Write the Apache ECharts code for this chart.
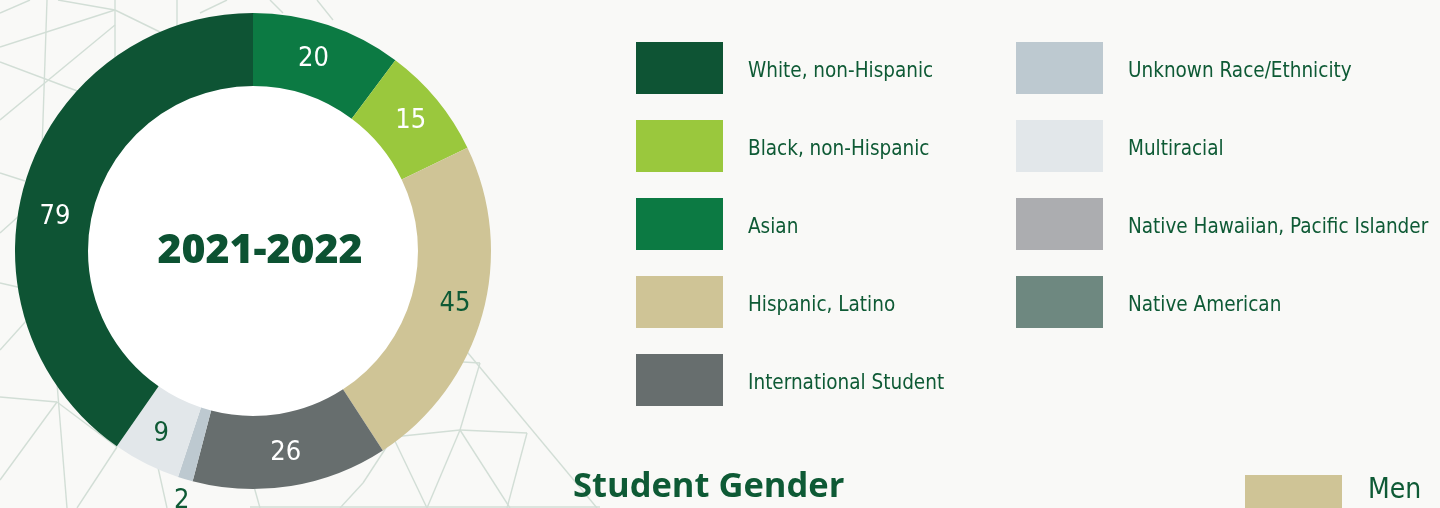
<!DOCTYPE html>
<html>
<head>
<meta charset="utf-8">
<script src="https://cdn.jsdelivr.net/npm/echarts@6/dist/echarts.min.js"></script>
<style>
  html, body { margin: 0; padding: 0; background: #f9f9f7; }
  #chart { width: 1440px; height: 508px; }
</style>
</head>
<body>
<div id="chart"></div>
<script>
// ring order, clockwise from 12 o'clock
var categories = ['Asian', 'Black, non-Hispanic', 'Hispanic, Latino', 'International Student',
  'Unknown Race/Ethnicity', 'Multiracial', 'White, non-Hispanic',
  'Native Hawaiian, Pacific Islander', 'Native American'];
var values = [20, 15, 45, 26, 2, 9, 79, 0, 0];
var colors = ['#0c7a43', '#9ac83d', '#cfc496', '#676e6e', '#bdc9d0', '#e2e7ea', '#0e5434', '#acadb0', '#6e8880'];

var legendLeft = ['White, non-Hispanic', 'Black, non-Hispanic', 'Asian', 'Hispanic, Latino', 'International Student'];
var legendRight = ['Unknown Race/Ethnicity', 'Multiracial', 'Native Hawaiian, Pacific Islander', 'Native American'];
var yearLabel = '2021-2022';
var nextTitle = 'Student Gender';
var nextLegend = ['Men'];
var nextColors = ['#cfc496'];

var green = '#0e5a35';
var narrow = '"Liberation Sans Narrow", "DejaVu Sans Condensed", Roboto, sans-serif';
var lightSlices = ['Hispanic, Latino', 'Unknown Race/Ethnicity', 'Multiracial'];
var labelNudge = {
  'Asian': [-4, 2],
  'White, non-Hispanic': [-3, 27],
  'Hispanic, Latino': [5, -2],
  'Unknown Race/Ethnicity': [-13, 54]
};

// faint triangle mesh in the page background
var bgLines = [
  [0, 47, 115, 10], [58, 0, 115, 10], [115, 0, 115, 60], [115, 10, 160, 32], [177, 0, 177, 30],
  [0, 120, 115, 25], [0, 62, 80, 92], [47, 0, 42, 150], [0, 173, 25, 181], [0, 233, 20, 215],
  [0, 13, 30, 0], [200, 13, 227, 0], [270, 0, 283, 13], [317, 0, 333, 20],
  [0, 283, 22, 288], [0, 350, 27, 320], [0, 397, 57, 402], [57, 402, 117, 447], [57, 383, 67, 508],
  [0, 480, 57, 402], [117, 447, 77, 508], [157, 463, 167, 508], [253, 483, 260, 508],
  [463, 347, 597, 508], [480, 363, 460, 430], [460, 430, 427, 508], [460, 430, 527, 433],
  [527, 433, 507, 508], [460, 430, 510, 508], [393, 437, 427, 508], [393, 437, 460, 430],
  [363, 483, 340, 508], [393, 437, 363, 483], [463, 362, 480, 363], [250, 507, 600, 507]
];

var pieData = categories.map(function (name, i) {
  var dark = lightSlices.indexOf(name) >= 0;
  return {
    name: name,
    value: values[i],
    itemStyle: { color: colors[i] },
    label: {
      show: values[i] > 0,
      color: dark ? green : '#ffffff',
      offset: labelNudge[name] || [0, 0]
    }
  };
});

var legendBase = {
  orient: 'vertical',
  top: 42,
  padding: 0,
  icon: 'rect',
  itemWidth: 87,
  itemHeight: 52,
  itemGap: 26,
  selectedMode: false,
  formatter: function (name) { return '{t|' + name + '}'; },
  textStyle: {
    color: green, fontSize: 20.5, fontFamily: narrow,
    rich: { t: { color: green, fontSize: 20.5, fontFamily: narrow, padding: [8, 0, 0, 20] } }
  }
};

var graphics = bgLines.map(function (s) {
  return {
    type: 'line', silent: true, z: -10,
    shape: { x1: s[0], y1: s[1], x2: s[2], y2: s[3] },
    style: { stroke: '#d2ded6', lineWidth: 1.4 }
  };
});
graphics.push({
  type: 'circle', silent: true, z: -5,
  shape: { cx: 253, cy: 251, r: 166 },
  style: { fill: '#ffffff' }
});
graphics.push({
  type: 'text', silent: true, z: 10,
  style: {
    x: 260, y: 251, text: yearLabel, align: 'center', verticalAlign: 'middle',
    fill: '#0c5232', font: '800 41px "Open Sans", sans-serif'
  }
});
graphics.push({
  type: 'text', silent: true,
  style: {
    x: 573, y: 487, text: nextTitle, align: 'left', verticalAlign: 'middle',
    fill: green, font: 'bold 34.5px "Open Sans", sans-serif'
  }
});
nextLegend.forEach(function (name, i) {
  graphics.push({ type: 'rect', silent: true, shape: { x: 1245, y: 475, width: 97, height: 40 }, style: { fill: nextColors[i] } });
  graphics.push({
    type: 'text', silent: true,
    style: { x: 1368, y: 491, text: name, verticalAlign: 'middle', fill: green, font: '28px ' + narrow }
  });
});

var chart = echarts.init(document.getElementById('chart'));
chart.setOption({
  backgroundColor: '#f9f9f7',
  animation: false,
  legend: [
    Object.assign({ data: legendLeft, left: 636 }, legendBase),
    Object.assign({ data: legendRight, left: 1016 }, legendBase)
  ],
  graphic: graphics,
  series: [{
    type: 'pie',
    center: [253, 251],
    radius: [165, 238],
    startAngle: 90,
    clockwise: true,
    avoidLabelOverlap: false,
    silent: true,
    label: {
      position: 'inside',
      formatter: '{c}',
      fontSize: 27,
      fontFamily: narrow
    },
    labelLine: { show: false },
    data: pieData
  }]
});
</script>
</body>
</html>
